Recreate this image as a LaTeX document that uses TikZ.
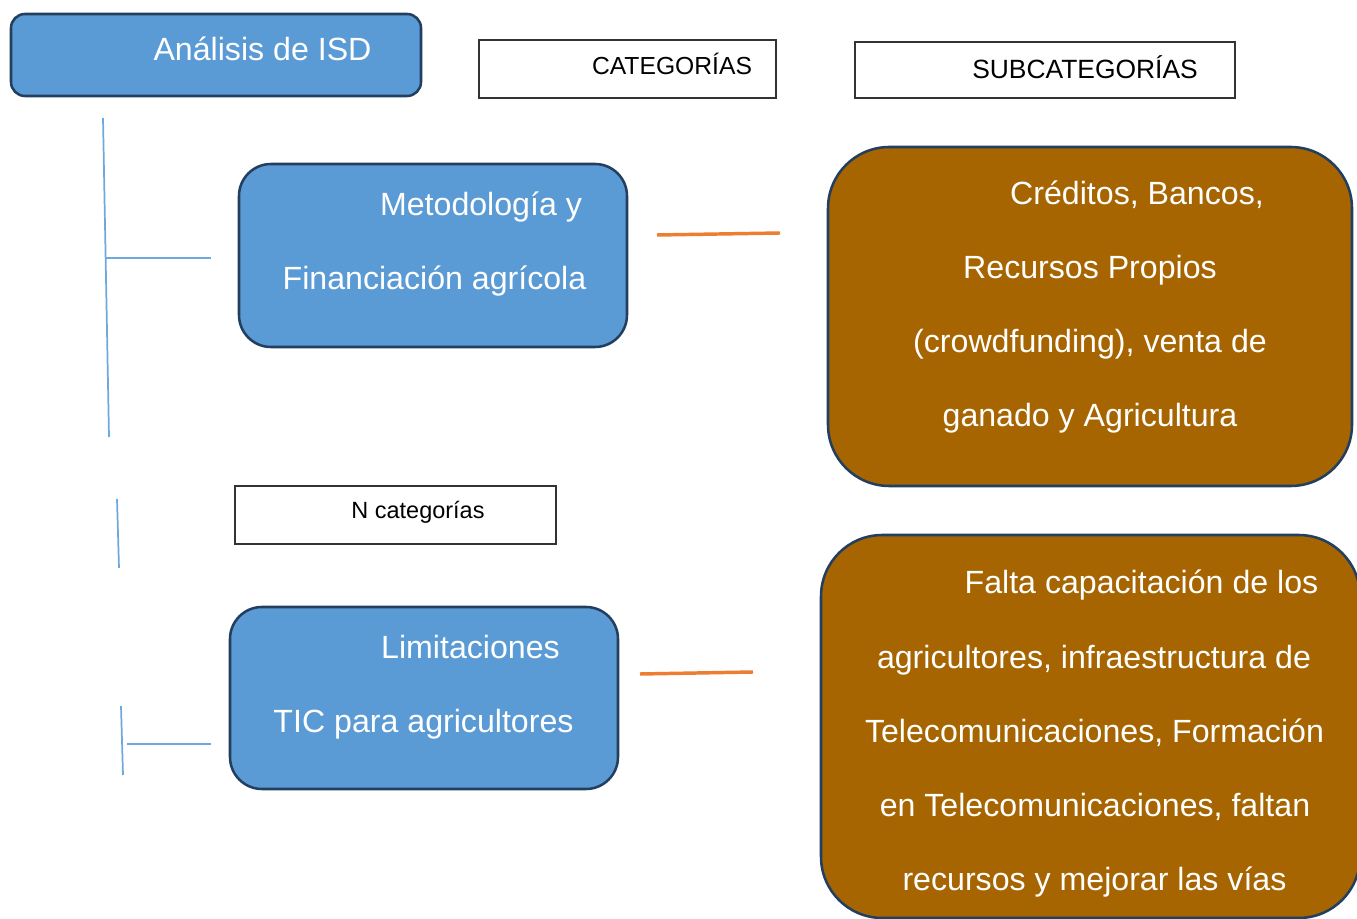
\documentclass[tikz,border=0pt]{standalone}
\usepackage{fontspec}
\setmainfont{Liberation Sans}
\definecolor{boxblue}{HTML}{5B9BD5}
\definecolor{navy}{HTML}{233F5F}
\definecolor{boxbrown}{HTML}{A66500}
\definecolor{linkorange}{HTML}{ED7D31}
\definecolor{treeblue}{HTML}{6FA8DC}
\definecolor{rectgray}{HTML}{333333}
\tikzset{
  bluebox/.style={draw=navy, line width=1.9pt, fill=boxblue, inner sep=0pt, outer sep=0pt},
  brownbox/.style={draw=navy, line width=1.9pt, fill=boxbrown, inner sep=0pt, outer sep=0pt, rounded corners=46pt},
  labelbox/.style={draw=rectgray, line width=0.9pt, fill=white, inner sep=0pt, outer sep=0pt},
  bigtxt/.style={text=white, inner sep=0pt, anchor=base, font=\fontsize{24.1pt}{28pt}\selectfont},
  smalltxt/.style={text=black, inner sep=0pt, anchor=base},
  treeline/.style={draw=treeblue, line width=1.3pt},
  orangeline/.style={draw=linkorange, line width=2.6pt}
}
\begin{document}
\begin{tikzpicture}[x=0.75pt,y=-0.75pt]
\useasboundingbox (0,0) rectangle (1357,919);
\clip (0,0) rectangle (1357,919);

% top box
\node[bluebox, rounded corners=10.5pt, minimum width=307.5pt, minimum height=61.5pt] (isd) at (216,55) {};
\node[bigtxt] (isdT) at (262.5,61) {Análisis de ISD};

% header rectangles
\node[labelbox, minimum width=222.75pt, minimum height=43.5pt] (cat) at (627.5,69) {};
\node[smalltxt, font=\fontsize{18.5pt}{22pt}\selectfont] (catT) at (672,75) {CATEGORÍAS};
\node[labelbox, minimum width=285pt, minimum height=42pt] (sub) at (1045,70) {};
\node[smalltxt, font=\fontsize{19.8pt}{24pt}\selectfont] (subT) at (1085,79) {SUBCATEGORÍAS};

% first category
\node[bluebox, rounded corners=24pt, minimum width=291pt, minimum height=137.25pt] (met) at (433,255.5) {};
\node[bigtxt] (metA) at (481,216) {Metodología y};
\node[bigtxt] (metB) at (434.5,290) {Financiación agrícola};

\node[brownbox, minimum width=393pt, minimum height=254.25pt] (cred) at (1090,316.5) {};
\node[bigtxt] (credA) at (1137,205) {Créditos, Bancos,};
\node[bigtxt] (credB) at (1090,279) {Recursos Propios};
\node[bigtxt] (credC) at (1090,353) {(crowdfunding), venta de};
\node[bigtxt] (credD) at (1090,427) {ganado y Agricultura};

% N categorias
\node[labelbox, minimum width=240.75pt, minimum height=43.5pt] (ncat) at (395.5,515) {};
\node[smalltxt, font=\fontsize{17.6pt}{21pt}\selectfont] (ncatT) at (418,519) {N categorías};

% second category
\node[bluebox, rounded corners=24pt, minimum width=291pt, minimum height=136.5pt] (lim) at (424,698) {};
\node[bigtxt] (limA) at (470.5,658) {Limitaciones};
\node[bigtxt] (limB) at (423.5,732) {TIC para agricultores};

\node[brownbox, minimum width=404.25pt, minimum height=287.25pt] (falta) at (1090.5,726.5) {};
\node[bigtxt] (faltaA) at (1141.5,594) {Falta capacitación de los};
\node[bigtxt] (faltaB) at (1094,668) {agricultores, infraestructura de};
\node[bigtxt] (faltaC) at (1094.5,742) {Telecomunicaciones, Formación};
\node[bigtxt] (faltaD) at (1095,816) {en Telecomunicaciones, faltan};
\node[bigtxt] (faltaE) at (1094.5,890) {recursos y mejorar las vías};

% tree lines (free-standing)
\coordinate (v1a) at (103,118);
\coordinate (v1b) at (109,437);
\coordinate (h1a) at (106,258);
\coordinate (h1b) at (211,258);
\coordinate (v2a) at (117,499);
\coordinate (v2b) at (119,568);
\coordinate (v3a) at (121,706);
\coordinate (v3b) at (123,775);
\coordinate (h3a) at (127,744);
\coordinate (h3b) at (211,744);
\draw[treeline] (v1a) -- (v1b);
\draw[treeline] (h1a) -- (h1b);
\draw[treeline] (v2a) -- (v2b);
\draw[treeline] (v3a) -- (v3b);
\draw[treeline] (h3a) -- (h3b);

% orange links
\coordinate (o1a) at (657,235);
\coordinate (o1b) at (780,233);
\coordinate (o2a) at (640,674);
\coordinate (o2b) at (753,672);
\draw[orangeline] (o1a) -- (o1b);
\draw[orangeline] (o2a) -- (o2b);
\end{tikzpicture}
\end{document}
